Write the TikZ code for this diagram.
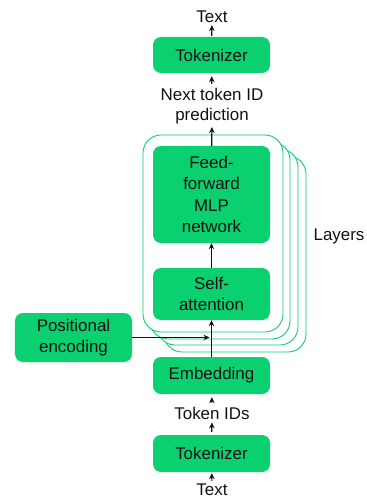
\documentclass[tikz,border=0pt]{standalone}
\usepackage{fontspec}
\setmainfont{Liberation Sans}
\usetikzlibrary{arrows.meta}
\definecolor{llmgreen}{HTML}{0AD06F}
\definecolor{inkblack}{HTML}{111111}
\tikzset{
  block/.style={fill=llmgreen, rounded corners=8bp, inner sep=0pt, align=center,
    text=inkblack, font=\fontsize{17}{21.5}\selectfont},
  label/.style={align=center, text=inkblack, inner sep=2bp,
    font=\fontsize{17}{20}\selectfont},
  layerframe/.style={draw=llmgreen, fill=white, line width=0.9bp, rounded corners=18bp},
  flow/.style={-{Stealth[length=6bp,width=5.5bp]}, line width=1.2bp, inkblack}
}
\begin{document}
\begin{tikzpicture}[x=1bp, y=-1bp]
      \useasboundingbox (0,0) rectangle (366,499);
      \draw[layerframe] (164,156) rectangle (306,352);
      \draw[layerframe] (157,149) rectangle (298,345);
      \draw[layerframe] (150,142) rectangle (290,339);
      \draw[layerframe] (143,135) rectangle (283,332);
      \draw
        (212,17) node[label] (textout){Text}
        (211.5,55) node[block, minimum width=117bp, minimum height=36bp] (tokout){Tokenizer}
        (212,106) node[label] (pred){Next token ID\\prediction}
        (211.5,194.5) node[block, minimum width=117bp, minimum height=97bp] (ff){Feed-\\forward\\MLP\\network}
        (211.5,294) node[block, minimum width=117bp, minimum height=52bp] (sa){Self-\\attention}
        (73.5,337.5) node[block, minimum width=117bp, minimum height=49bp] (pos){Positional\\encoding}
        (211.5,375.5) node[block, minimum width=117bp, minimum height=37bp] (emb){Embedding}
        (212,413) node[label] (ids){Token IDs}
        (211.5,453.5) node[block, minimum width=117bp, minimum height=37bp] (tokin){Tokenizer}
        (212,490) node[label] (textin){Text}
        (339,236) node[label] (layers){Layers};
      \begin{scope}[flow]
        \draw[shorten <=1bp, shorten >=1bp] (textin) to (tokin);
        \draw[shorten <=3bp, shorten >=1bp] (tokin) to (ids);
        \draw[shorten <=2bp, shorten >=3bp] (ids) to (emb);
        \draw (emb) to (sa);
        \draw[shorten >=2bp] (pos) to (pos -| emb);
        \draw (sa) to (ff);
        \draw[shorten >=1bp] (ff) to (pred);
        \draw[shorten <=2bp, shorten >=3bp] (pred) to (tokout);
        \draw[shorten <=1bp] (tokout) to (textout);
      \end{scope}
    \end{tikzpicture}
\end{document}
